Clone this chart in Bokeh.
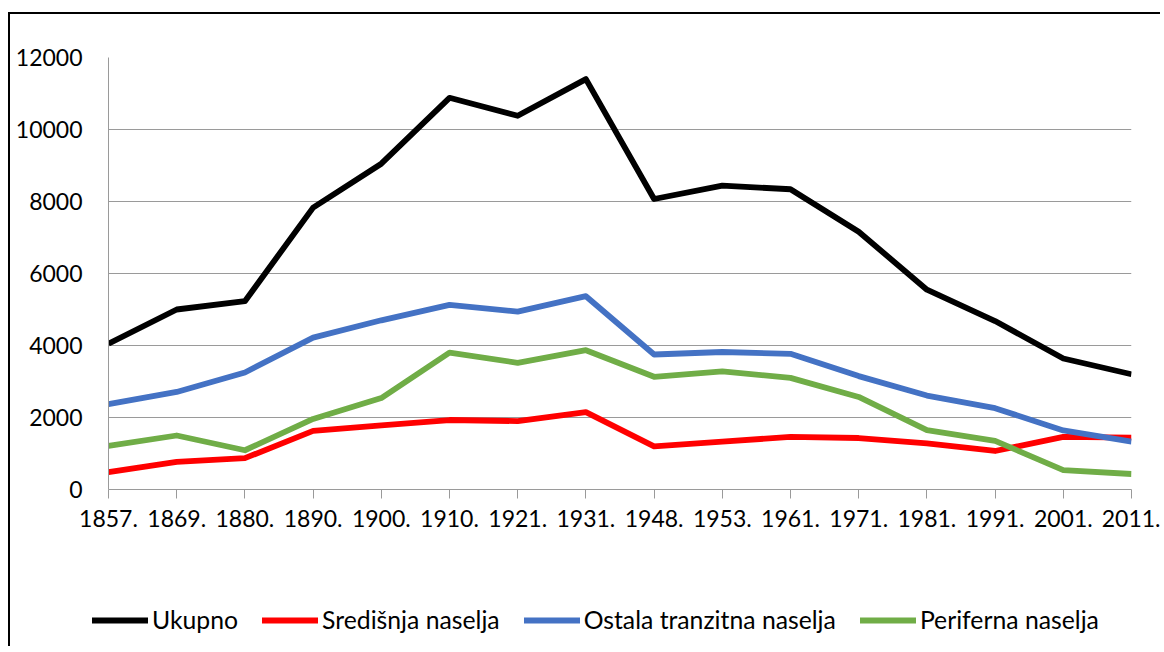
from bokeh.plotting import figure
from bokeh.models import Range1d, FixedTicker, Legend, LegendItem
from bokeh.layouts import column
from bokeh.embed import file_html
from bokeh.resources import INLINE

years = ["1857.", "1869.", "1880.", "1890.", "1900.", "1910.", "1921.", "1931.",
         "1948.", "1953.", "1961.", "1971.", "1981.", "1991.", "2001.", "2011."]
ukupno = [4050, 5000, 5230, 7830, 9050, 10880, 10380, 11400,
          8070, 8440, 8340, 7160, 5550, 4680, 3640, 3200]
sredisnja = [480, 770, 870, 1630, 1780, 1930, 1900, 2150,
             1200, 1330, 1460, 1430, 1280, 1070, 1460, 1440]
ostala = [2370, 2710, 3250, 4220, 4700, 5130, 4940, 5370,
          3750, 3820, 3770, 3150, 2610, 2260, 1640, 1330]
periferna = [1210, 1500, 1090, 1960, 2540, 3800, 3520, 3870,
             3130, 3280, 3100, 2570, 1650, 1350, 540, 430]
y_ticks = [0, 2000, 4000, 6000, 8000, 10000, 12000]
series_names = ["Ukupno", "Središnja naselja", "Ostala tranzitna naselja", "Periferna naselja"]
colors = ["#000000", "#FF0000", "#4472C4", "#70AD47"]
series = [ukupno, sredisnja, ostala, periferna]

FONT = "Lato"
FS = "23px"
GRID = "#9a9a9a"
LW = 5.8

xs = list(range(len(years)))

p = figure(width=1150, height=546, output_backend="svg", toolbar_location=None,
           x_range=Range1d(0, len(years) - 1), y_range=Range1d(y_ticks[0], y_ticks[-1]),
           min_border_left=98, min_border_right=29, min_border_top=43, min_border_bottom=71,
           background_fill_color="white", border_fill_color="white")
p.outline_line_color = None
p.frame_align = False

for vals, col in zip(series, colors):
    p.line(xs, vals, line_color=col, line_width=LW, line_join="round")

p.xaxis.ticker = FixedTicker(ticks=xs)
p.xaxis.major_label_overrides = {i: y for i, y in enumerate(years)}
p.xaxis.axis_line_color = GRID
p.xaxis.major_tick_line_color = GRID
p.xaxis.major_tick_out = 9
p.xaxis.major_tick_in = 0
p.xaxis.minor_tick_line_color = None
p.xaxis.major_label_text_font = FONT
p.xaxis.major_label_text_font_size = FS
p.xaxis.major_label_text_color = "black"
p.xaxis.major_label_standoff = 11

p.yaxis.ticker = FixedTicker(ticks=y_ticks)
p.yaxis.axis_line_color = GRID
p.yaxis.major_tick_line_color = None
p.yaxis.major_tick_out = 0
p.yaxis.major_tick_in = 0
p.yaxis.minor_tick_line_color = None
p.yaxis.major_label_text_font = FONT
p.yaxis.major_label_text_font_size = FS
p.yaxis.major_label_text_color = "black"
p.yaxis.major_label_standoff = 26

p.xgrid.grid_line_color = None
p.ygrid.ticker = FixedTicker(ticks=y_ticks)
p.ygrid.grid_line_color = GRID
p.ygrid.grid_line_width = 1

# legend strip below the chart (series drawn outside its visible range)
pl = figure(width=1150, height=86, output_backend="svg", toolbar_location=None,
            x_range=Range1d(0, len(years) - 1), y_range=Range1d(-3, -2),
            x_axis_type=None, y_axis_type=None,
            min_border_left=0, min_border_right=0, min_border_top=0, min_border_bottom=0,
            background_fill_color="white", border_fill_color="white")
pl.outline_line_color = None
pl.grid.visible = False
pl.frame_align = False
leg_renderers = [pl.line(xs, vals, line_color=col, line_width=LW, line_cap="round")
                 for vals, col in zip(series, colors)]
items = [LegendItem(label=n, renderers=[r]) for n, r in zip(series_names, leg_renderers)]
legend = Legend(items=items, orientation="horizontal", location=(82, 12),
                label_text_font=FONT, label_text_font_size="24.75px", label_text_color="black",
                glyph_width=56, glyph_height=20, label_standoff=4, spacing=24,
                padding=0, margin=0, border_line_color=None, background_fill_alpha=0)
pl.add_layout(legend, "center")

layout = column(p, pl, spacing=0,
                styles={"border-left": "2px solid black", "border-top": "2px solid black",
                        "margin-left": "8px", "margin-top": "12px"})

open("out.html", "w").write(file_html(layout, INLINE))
